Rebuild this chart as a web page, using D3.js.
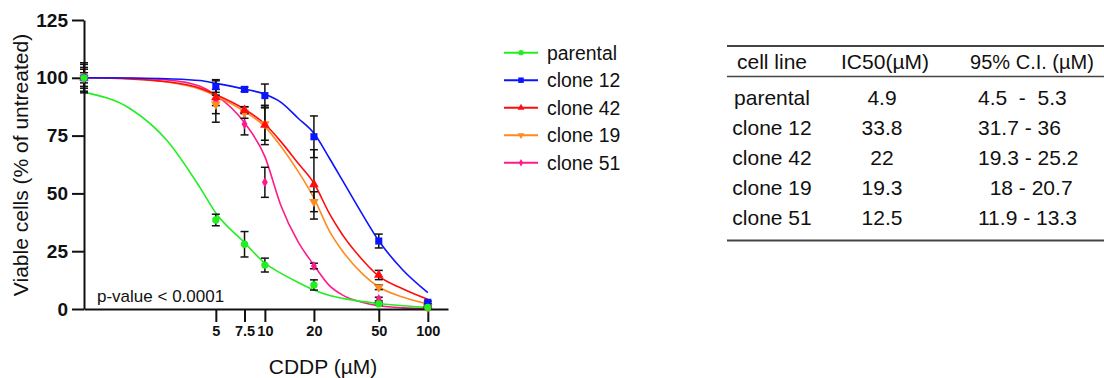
<!DOCTYPE html>
<html><head><meta charset="utf-8">
<script src="https://cdn.jsdelivr.net/npm/d3@7"></script>
<style>
body{margin:0;background:#fff;}
svg text{font-family:"Liberation Sans",Arial,Helvetica,sans-serif;fill:#111;}
</style>
</head><body>
<svg id="chart" width="1104" height="378"></svg>
<script>
// ---------- data ----------
const seriesNames = ["parental", "clone 12", "clone 42", "clone 19", "clone 51"];
const seriesColors = ["#22ee22", "#0a14ff", "#ff0d0d", "#ff8a1f", "#ff1a8c"];
const doses = [0, 5, 7.5, 10, 20, 50, 100];            // 0 = untreated control

const parentalMean = [100, 38.5, 28.0, 19.0, 10.4, 2.2, 0.7];
const parentalErr  = [2.2, 2.5, 5.5, 3.0, 2.2, 0.6, 0.3];
const clone12Mean  = [100, 96.2, 95.0, 92.3, 74.5, 29.4, 2.9];
const clone12Err   = [3.7, 2.5, 1.0, 5.0, 9.0, 3.0, 0.5];
const clone42Mean  = [100, 91.5, 86.0, 79.6, 53.9, 14.7, 1.5];
const clone42Err   = [4.5, 3.5, 1.5, 8.5, 15.0, 2.0, 0.4];
const clone19Mean  = [100, 88.5, 85.0, 80.0, 46.4, 9.4, 1.0];
const clone19Err   = [5.8, 4.0, 2.5, 7.0, 4.3, 1.0, 0.3];
const clone51Mean  = [100, 90.0, 80.0, 54.8, 18.6, 4.3, 0.3];
const clone51Err   = [6.5, 9.2, 4.7, 6.5, 1.2, 0.8, 0.2];

// fitted dose-response curves
const curveDoses     = [0.776, 1.5, 2.5, 4, 5, 7.5, 10, 12.5, 16, 20, 25, 30, 40, 50, 70, 100];
const parentalCurve  = [93.8, 86.5, 73.0, 52.5, 41.5, 28.7, 19.8, 15.5, 11.5, 8.2, 5.8, 4.6, 3.2, 2.4, 1.4, 0.7];
const clone12Curve   = [100, 99.9, 99.6, 98.8, 97.6, 95.1, 92.9, 89.5, 82.5, 76.0, 65.0, 55.5, 40.5, 29.5, 17.0, 7.1];
const clone42Curve   = [100, 99.5, 98.3, 95.5, 92.7, 86.4, 80.0, 72.5, 63.0, 54.4, 41.0, 32.0, 21.0, 14.2, 8.8, 4.2];
const clone19Curve   = [100, 99.5, 98.2, 95.0, 92.1, 85.4, 78.9, 70.5, 59.5, 48.0, 33.5, 25.0, 15.0, 9.5, 5.2, 2.2];
const clone51Curve   = [100, 99.8, 99.1, 96.3, 92.5, 80.5, 65.9, 45.0, 29.0, 19.0, 10.0, 6.0, 2.8, 1.4, 0.5, 0.2];

const xTicks = [5, 7.5, 10, 20, 50, 100];
const yTicks = [0, 25, 50, 75, 100, 125];

const tableHeader = ["cell line", "IC50(µM)", "95% C.I. (µM)"];
const tableIC50 = ["4.9", "33.8", "22", "19.3", "12.5"];
const tableCI = ["4.5  -  5.3", "31.7 - 36", "19.3 - 25.2", "  18 - 20.7", "11.9 - 13.3"];
const pValueText = "p-value < 0.0001";

// ---------- build ----------
const means = [parentalMean, clone12Mean, clone42Mean, clone19Mean, clone51Mean];
const errs = [parentalErr, clone12Err, clone42Err, clone19Err, clone51Err];
const curves = [parentalCurve, clone12Curve, clone42Curve, clone19Curve, clone51Curve];
const symbolTypes = [d3.symbolCircle, d3.symbolSquare, d3.symbolTriangle, d3.symbolTriangle, d3.symbolDiamond];
const symbolRot = [0, 0, 0, 180, 0];
const symbolSize = [42, 50, 40, 40, 30];
const legendSymbolSize = [22, 30, 20, 20, 16];

const series = seriesNames.map((name, i) => ({
  name, color: seriesColors[i], sym: symbolTypes[i], rot: symbolRot[i],
  size: symbolSize[i], lsize: legendSymbolSize[i],
  points: doses.map((d, j) => ({dose: d, mean: means[i][j], err: errs[i][j]})),
  curve: curveDoses.map((d, j) => ({dose: d, v: curves[i][j]}))
}));

const svg = d3.select("#chart");
const x = d3.scaleLog().domain([0.776, 133]).range([84, 448]);
const y = d3.scaleLinear().domain([0, 125]).range([309, 20]);
const xp = d => d === 0 ? x.range()[0] : x(d);

// curves
const line = d3.line().x(d => xp(d.dose)).y(d => y(d.v)).curve(d3.curveMonotoneX);
const drawOrder = [4, 3, 2, 1, 0];
const gCurves = svg.append("g");
drawOrder.forEach(i => {
  gCurves.append("path").datum(series[i].curve)
    .attr("d", line).attr("fill", "none")
    .attr("stroke", series[i].color).attr("stroke-width", 1.6);
});

// error bars
const gErr = svg.append("g").attr("stroke", "#111").attr("stroke-width", 1.5);
drawOrder.forEach(i => {
  series[i].points.forEach(p => {
    const cx = xp(p.dose), y1 = y(p.mean + p.err), y2 = y(p.mean - p.err);
    gErr.append("line").attr("x1", cx).attr("x2", cx).attr("y1", y1).attr("y2", y2);
    gErr.append("line").attr("x1", cx - 4).attr("x2", cx + 4).attr("y1", y1).attr("y2", y1);
    gErr.append("line").attr("x1", cx - 4).attr("x2", cx + 4).attr("y1", y2).attr("y2", y2);
  });
});

// axes
const yAxis = d3.axisLeft(y).tickValues(yTicks).tickSize(12).tickSizeOuter(0).tickPadding(4);
const gy = svg.append("g").attr("transform", "translate(84,0)").call(yAxis);
gy.selectAll("path,line").attr("stroke", "#111").attr("stroke-width", 2);
gy.selectAll("text").attr("font-size", 19).attr("font-weight", "bold")
  .attr("font-family", "Liberation Sans, Arial, sans-serif").attr("fill", "#111");

const xAxis = d3.axisBottom(x).tickValues(xTicks).tickFormat(d => d).tickSize(13).tickSizeOuter(0).tickPadding(4);
const gx = svg.append("g").attr("transform", "translate(0,309)").call(xAxis);
gx.selectAll("path,line").attr("stroke", "#111").attr("stroke-width", 2);
gx.selectAll("text").attr("font-size", 14.5).attr("font-weight", "bold")
  .attr("font-family", "Liberation Sans, Arial, sans-serif").attr("fill", "#111");

// markers
const gMark = svg.append("g");
drawOrder.forEach(i => {
  const s = series[i];
  s.points.forEach(p => {
    gMark.append("path")
      .attr("d", d3.symbol().type(s.sym).size(s.size)())
      .attr("transform", `translate(${xp(p.dose)},${y(p.mean)}) rotate(${s.rot})`)
      .attr("fill", s.color);
  });
});

// axis titles
svg.append("text").attr("transform", "translate(28,165) rotate(-90)")
  .attr("text-anchor", "middle").attr("font-size", 21).text("Viable cells (% of untreated)");
svg.append("text").attr("x", 323).attr("y", 373.5)
  .attr("text-anchor", "middle").attr("font-size", 21).text("CDDP (µM)");
svg.append("text").attr("x", 97).attr("y", 302).attr("font-size", 17).text(pValueText);

// legend
const legendY = d3.scaleLinear().domain([0, 4]).range([52.7, 162.7]);
series.forEach((s, i) => {
  const ly = legendY(i);
  svg.append("line").attr("x1", 504).attr("x2", 538).attr("y1", ly).attr("y2", ly)
    .attr("stroke", s.color).attr("stroke-width", 2);
  svg.append("path").attr("d", d3.symbol().type(s.sym).size(s.lsize)())
    .attr("transform", `translate(521,${ly}) rotate(${s.rot})`).attr("fill", s.color);
  svg.append("text").attr("x", 547).attr("y", ly + 6.8).attr("font-size", 19.4).text(s.name);
});

// table
const tbl = svg.append("g");
const colCenters = [772, 885, 1032];
tbl.append("line").attr("x1", 727).attr("x2", 1104).attr("y1", 46).attr("y2", 46).attr("stroke", "#444").attr("stroke-width", 2);
tbl.append("line").attr("x1", 727).attr("x2", 1104).attr("y1", 76.5).attr("y2", 76.5).attr("stroke", "#444").attr("stroke-width", 1.5);
tbl.append("line").attr("x1", 727).attr("x2", 1104).attr("y1", 240.5).attr("y2", 240.5).attr("stroke", "#444").attr("stroke-width", 2);
tableHeader.forEach((h, k) => {
  tbl.append("text").attr("x", colCenters[k]).attr("y", 68.5).attr("text-anchor", "middle")
    .attr("font-size", k === 2 ? 20 : 21).text(h);
});
const rowY = d3.scaleLinear().domain([0, 4]).range([105, 225]);
seriesNames.forEach((n, r) => {
  const ty = rowY(r);
  tbl.append("text").attr("x", 772).attr("y", ty).attr("text-anchor", "middle").attr("font-size", 21).text(n);
  tbl.append("text").attr("x", 882).attr("y", ty).attr("text-anchor", "middle").attr("font-size", 21).text(tableIC50[r]);
  tbl.append("text").attr("x", 978).attr("y", ty).attr("font-size", 21)
    .style("white-space", "pre").text(tableCI[r]);
});
</script>
</body></html>
